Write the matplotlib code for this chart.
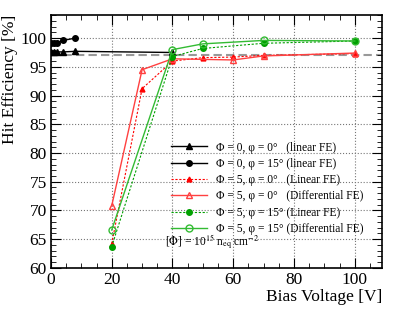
import matplotlib
matplotlib.use("Agg")
import matplotlib.pyplot as plt
from matplotlib.ticker import MultipleLocator

plt.rcParams['font.family'] = ['Liberation Serif', 'DejaVu Serif']
plt.rcParams['mathtext.fontset'] = 'stix'

# Phi = 0, phi = 0 (linear FE)
v_p0_a0 = [0, 1, 2, 4, 8, 40]
e_p0_a0 = [97.6, 97.6, 97.6, 97.6, 97.7, 97.5]
# Phi = 0, phi = 15 (linear FE)
v_p0_a15 = [0, 1, 2, 4, 8]
e_p0_a15 = [99.1, 99.1, 99.1, 99.6, 100.0]
# Phi = 5, phi = 0 (linear FE)
v_p5_a0_lin = [20, 30, 40, 50, 60, 70, 100]
e_p5_a0_lin = [64.2, 91.2, 96.0, 96.6, 96.7, 97.0, 97.3]
# Phi = 5, phi = 0 (differential FE)
v_p5_a0_diff = [20, 30, 40, 60, 70, 100]
e_p5_a0_diff = [70.8, 94.5, 96.4, 96.2, 96.9, 97.4]
# Phi = 5, phi = 15 (linear FE)
v_p5_a15_lin = [20, 40, 50, 70, 100]
e_p5_a15_lin = [63.7, 96.8, 98.2, 99.1, 99.5]
# Phi = 5, phi = 15 (differential FE)
v_p5_a15_diff = [20, 40, 50, 70, 100]
e_p5_a15_diff = [66.6, 98.0, 99.0, 99.6, 99.5]

ref_line = 97.1

labels = ['Φ = 0, φ = 0°   (linear FE)',
          'Φ = 0, φ = 15° (linear FE)',
          'Φ = 5, φ = 0°   (Linear FE)',
          'Φ = 5, φ = 0°   (Differential FE)',
          'Φ = 5, φ = 15° (Linear FE)',
          'Φ = 5, φ = 15° (Differential FE)']

fig = plt.figure(figsize=(3.98, 3.09), dpi=100)
ax = fig.add_axes([0.128, 0.133, 0.832, 0.818])

ax.axhline(ref_line, color='#999999', ls='--', lw=1.5, dashes=(4, 2), zorder=1)

ax.plot(v_p0_a0, e_p0_a0, color='black', marker='^', ms=4, lw=1, label=labels[0])
ax.plot(v_p0_a15, e_p0_a15, color='black', marker='o', ms=4, lw=1, label=labels[1])
ax.plot(v_p5_a0_lin, e_p5_a0_lin, color='#ff0000', marker='^', ms=3.5, lw=0.8,
        ls=(0, (2, 1.5)), label=labels[2])
ax.plot(v_p5_a0_diff, e_p5_a0_diff, color='#ff4040', marker='^', ms=5, mfc='none',
        lw=1, label=labels[3])
ax.plot(v_p5_a15_lin, e_p5_a15_lin, color='#00a000', marker='o', ms=4, lw=0.8,
        ls=(0, (2, 1.5)), label=labels[4])
ax.plot(v_p5_a15_diff, e_p5_a15_diff, color='#33bb33', marker='o', ms=5, mfc='none',
        lw=1, label=labels[5])

ax.set_xlim(0, 109)
ax.set_ylim(60, 104)
ax.xaxis.set_major_locator(MultipleLocator(20))
ax.xaxis.set_minor_locator(MultipleLocator(5))
ax.yaxis.set_major_locator(MultipleLocator(5))
ax.yaxis.set_minor_locator(MultipleLocator(1))
ax.tick_params(which='both', direction='in', top=True, right=True, labelsize=12.5, pad=3)
ax.tick_params(which='major', length=7)
ax.tick_params(which='minor', length=3.5)
ax.grid(True, which='major', ls=':', color='#777777', lw=0.8)
for s in ax.spines.values():
    s.set_linewidth(1.2)

ax.set_xlabel('Bias Voltage [V]', fontsize=12.5, loc='right', labelpad=1)
ax.set_ylabel('Hit Efficiency [%]', fontsize=12.5, loc='top', labelpad=2)

leg = ax.legend(loc='upper left', bbox_to_anchor=(0.362, 0.5), frameon=False,
                fontsize=8.3, handlelength=3.1, labelspacing=0.37, borderaxespad=0,
                handletextpad=0.8, borderpad=0)
ax.text(0.344, 0.087, r'[$\Phi$] = 10$^{15}$ n$_{\rm eq}$ cm$^{-2}$', transform=ax.transAxes,
        fontsize=8.3)

fig.savefig('out.png', dpi=100)
